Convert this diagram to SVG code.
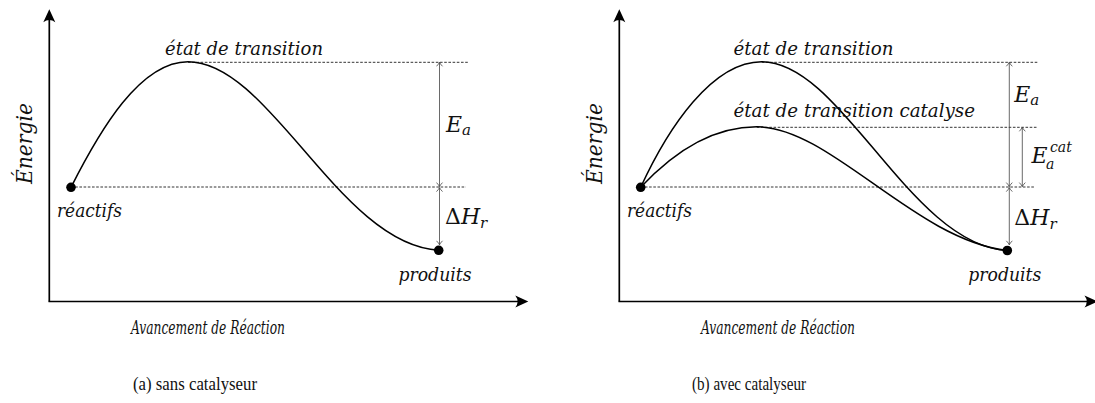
<svg xmlns="http://www.w3.org/2000/svg" width="1095" height="403" viewBox="0 0 1095 403">
<style>
.axis{stroke:#000;stroke-width:1.7;fill:none}
.curve{stroke:#000;stroke-width:1.5;fill:none}
.dash{stroke:#000;stroke-width:0.8;stroke-dasharray:2.6 1.6;fill:none}
.dim{stroke:#444;stroke-width:0.8;fill:none}
.dot{fill:#000}
text{font-family:'Liberation Serif','DejaVu Serif',serif;fill:#111}
.lbl,.ylbl,.xlbl,.math{font-family:'DejaVu Serif','Liberation Serif',serif;font-style:italic}
.lbl{font-size:19px}
.ylbl{font-size:23px}
.xlbl{font-size:19px}
.cap{font-size:19px}
.math{font-size:22px}
.up{font-style:normal}
.sm{font-size:15px}
.xs{font-size:14px}
</style>
<defs>
<marker id="axhead" viewBox="-14 -7 15 14" refX="-8" refY="0" markerWidth="15" markerHeight="14" markerUnits="userSpaceOnUse" orient="auto">
<path d="M0,0 L-13,-6 Q-8.5,0 -13,6 Z" fill="#000"/>
</marker>
<marker id="dimhead" viewBox="-5 -4 6 8" refX="0" refY="0" markerWidth="6" markerHeight="8" markerUnits="userSpaceOnUse" orient="auto-start-reverse">
<path d="M-4,-3 Q-1.5,-0.6 0,0 Q-1.5,0.6 -4,3" stroke="#444" stroke-width="0.8" fill="none"/>
</marker>
</defs>

<g id="panel-a">
<g id="axes-a">
<line class="axis" x1="49.3" y1="301.5" x2="49.3" y2="17.3" marker-end="url(#axhead)"/>
<line class="axis" x1="48.5" y1="301.5" x2="520.3" y2="301.5" marker-end="url(#axhead)"/>
</g>
<g id="connectors-a">
<path class="dash" d="M188,62.3 H468.3"/>
<path class="dash" d="M71,187 H466"/>
<line class="dim" x1="439.5" y1="62.3" x2="439.5" y2="186.6" marker-start="url(#dimhead)" marker-end="url(#dimhead)"/>
<line class="dim" x1="439.5" y1="187.6" x2="439.5" y2="244.8" marker-start="url(#dimhead)" marker-end="url(#dimhead)"/>
<path class="curve" d="M71,187.3 C100,130 140,61.7 188,61.7 C270,61.7 340,245 439,250.3"/>
</g>
<g id="node-reactifs-a">
<circle class="dot" cx="71" cy="187.3" r="4.8"/>
<text class="lbl" x="57" y="217" textLength="65" lengthAdjust="spacingAndGlyphs">réactifs</text>
</g>
<g id="node-produits-a">
<circle class="dot" cx="438.7" cy="250.3" r="4.8"/>
<text class="lbl" x="398.5" y="280.5" textLength="73" lengthAdjust="spacingAndGlyphs">produits</text>
</g>
<g id="node-etat-a">
<text class="lbl" x="165" y="55" textLength="158" lengthAdjust="spacingAndGlyphs">état de transition</text>
</g>
<g id="labels-a">
<text class="math" x="446" y="131.5">E<tspan class="sm" dy="3.5">a</tspan></text>
<text class="math" x="445" y="224"><tspan class="up">Δ</tspan>H<tspan class="sm" dy="3.5">r</tspan></text>
<text class="ylbl" transform="translate(32,184) rotate(-90)" textLength="81" lengthAdjust="spacingAndGlyphs">Énergie</text>
<text class="xlbl" x="131" y="333.5" textLength="154" lengthAdjust="spacingAndGlyphs">Avancement de Réaction</text>
<text class="cap" x="133" y="390" textLength="124" lengthAdjust="spacingAndGlyphs">(a) sans catalyseur</text>
</g>
</g>

<g id="panel-b">
<g id="axes-b">
<line class="axis" x1="619.3" y1="301.5" x2="619.3" y2="17.3" marker-end="url(#axhead)"/>
<line class="axis" x1="618.5" y1="301.5" x2="1089.5" y2="301.5" marker-end="url(#axhead)"/>
</g>
<g id="connectors-b">
<path class="dash" d="M761.7,62.3 H1037.3"/>
<path class="dash" d="M756.7,127.3 H1037.3"/>
<path class="dash" d="M640.7,187 H1035"/>
<line class="dim" x1="1009.3" y1="62.3" x2="1009.3" y2="186.6" marker-start="url(#dimhead)" marker-end="url(#dimhead)"/>
<line class="dim" x1="1022.3" y1="127.3" x2="1022.3" y2="186.6" marker-start="url(#dimhead)" marker-end="url(#dimhead)"/>
<line class="dim" x1="1009.3" y1="187.6" x2="1009.3" y2="244.8" marker-start="url(#dimhead)" marker-end="url(#dimhead)"/>
<path class="curve" d="M640.7,187.3 C668,128 712,61.7 761.7,61.7 C842,61.7 910,245 1007.3,250.5"/>
<path class="curve" d="M640.7,187.3 C668,158 708,126.7 756.7,126.7 C830,126.7 915,240 1007.3,250.5"/>
</g>
<g id="node-reactifs-b">
<circle class="dot" cx="640.7" cy="187.3" r="4.8"/>
<text class="lbl" x="627" y="217" textLength="65" lengthAdjust="spacingAndGlyphs">réactifs</text>
</g>
<g id="node-produits-b">
<circle class="dot" cx="1007.3" cy="250.5" r="4.8"/>
<text class="lbl" x="968.3" y="280.5" textLength="73" lengthAdjust="spacingAndGlyphs">produits</text>
</g>
<g id="node-etat-b">
<text class="lbl" x="733.5" y="55" textLength="160" lengthAdjust="spacingAndGlyphs">état de transition</text>
</g>
<g id="node-etatcat-b">
<text class="lbl" x="733.5" y="116.7" textLength="241.5" lengthAdjust="spacingAndGlyphs">état de transition catalyse</text>
</g>
<g id="labels-b">
<text class="math" x="1014.3" y="101.7">E<tspan class="sm" dy="3.5">a</tspan></text>
<text class="math" x="1031.5" y="163.3">E</text>
<text class="math xs" x="1050" y="151.5">cat</text>
<text class="math xs" x="1046" y="169">a</text>
<text class="math" x="1014.3" y="225"><tspan class="up">Δ</tspan>H<tspan class="sm" dy="3.5">r</tspan></text>
<text class="ylbl" transform="translate(602,184) rotate(-90)" textLength="81" lengthAdjust="spacingAndGlyphs">Énergie</text>
<text class="xlbl" x="701" y="333.5" textLength="154" lengthAdjust="spacingAndGlyphs">Avancement de Réaction</text>
<text class="cap" x="692" y="390" textLength="114" lengthAdjust="spacingAndGlyphs">(b) avec catalyseur</text>
</g>
</g>
</svg>
